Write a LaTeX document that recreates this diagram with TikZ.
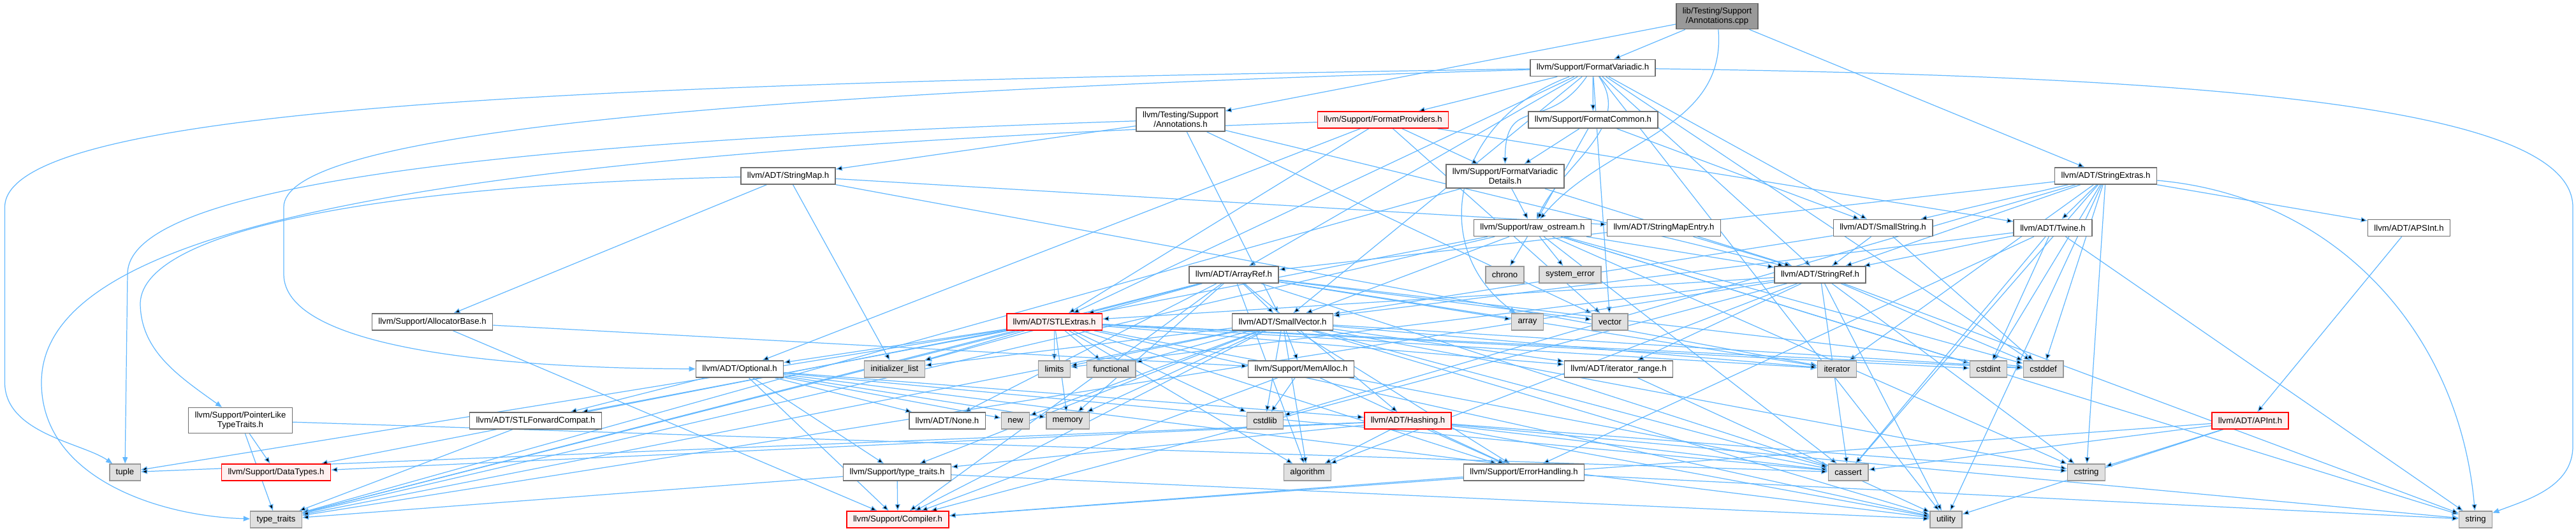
\documentclass[tikz,border=0pt]{standalone}
\usepackage{fontspec}
\setmainfont{Liberation Sans}
\usetikzlibrary{arrows.meta, backgrounds}
\definecolor{edgecol}{RGB}{99, 184, 255}
\definecolor{rootcol}{RGB}{153, 153, 153}
\definecolor{rootline}{RGB}{102, 102, 102}
\definecolor{hdrline}{RGB}{110, 110, 110}
\definecolor{syscol}{RGB}{224, 224, 224}
\definecolor{sysline}{RGB}{153, 153, 153}
\definecolor{trunccol}{RGB}{255, 240, 240}
\definecolor{truncline}{RGB}{255, 0, 0}

\begin{document}
\begin{tikzpicture}[
    font=\fontsize{7.5}{8.6}\selectfont,
    flow/.style={draw=edgecol, line width=0.7pt, -{Triangle[length=2mm, width=1.6mm]}},
    box/.style={draw, line width=0.9pt, minimum height=5.2mm, inner xsep=2mm, inner ysep=3.6pt, align=center},
    hdrbox/.style={box, draw=hdrline, fill=white},
    sysbox/.style={box, draw=sysline, fill=syscol},
    truncbox/.style={box, draw=truncline, fill=trunccol},
    rootbox/.style={box, draw=rootline, fill=rootcol}
]
\useasboundingbox (0,0) rectangle (80.8,-16.66);

% The file and its direct includes
\node[rootbox]  (root)       at (53.86,-0.51) {lib/Testing/Support\\/Annotations.cpp};
\node[hdrbox]   (fmtvar)     at (49.96,-2.13) {llvm/Support/FormatVariadic.h};
\node[hdrbox]   (annoth)     at (37.03,-3.75) {llvm/Testing/Support\\/Annotations.h};
\node[truncbox] (fmtprov)    at (43.38,-3.76) {llvm/Support/FormatProviders.h};
\node[hdrbox]   (fmtcommon)  at (49.97,-3.76) {llvm/Support/FormatCommon.h};
\node[hdrbox]   (fmtdetails) at (47.21,-5.53) {llvm/Support/FormatVariadic\\Details.h};
\node[hdrbox]   (strextras)  at (66.05,-5.52) {llvm/ADT/StringExtras.h};
\node[hdrbox]   (strmap)     at (24.72,-5.52) {llvm/ADT/StringMap.h};

% Middle rows of headers
\node[hdrbox]   (rawos)      at (48.07,-7.15) {llvm/Support/raw\_ostream.h};
\node[hdrbox]   (strmapent)  at (52.19,-7.15) {llvm/ADT/StringMapEntry.h};
\node[hdrbox]   (smallstr)   at (59.06,-7.15) {llvm/ADT/SmallString.h};
\node[hdrbox]   (twine)      at (64.39,-7.15) {llvm/ADT/Twine.h};
\node[hdrbox]   (apsint)     at (75.56,-7.15) {llvm/ADT/APSInt.h};
\node[hdrbox]   (arrayref)   at (38.70,-8.62) {llvm/ADT/ArrayRef.h};
\node[sysbox]   (chrono)     at (47.20,-8.62) {chrono};
\node[sysbox]   (syserror)   at (49.25,-8.62) {system\_error};
\node[hdrbox]   (strref)     at (57.09,-8.62) {llvm/ADT/StringRef.h};
\node[hdrbox]   (allocbase)  at (13.56,-10.10) {llvm/Support/AllocatorBase.h};
\node[truncbox] (stlextras)  at (33.07,-10.10) {llvm/ADT/STLExtras.h};
\node[hdrbox]   (smallvec)   at (40.23,-10.10) {llvm/ADT/SmallVector.h};
\node[sysbox]   (array)      at (47.91,-10.10) {array};
\node[sysbox]   (vector)     at (50.50,-10.10) {vector};
\node[hdrbox]   (optional)   at (23.20,-11.58) {llvm/ADT/Optional.h};
\node[sysbox]   (initlist)   at (28.06,-11.58) {initializer\_list};
\node[sysbox]   (limits)     at (33.07,-11.58) {limits};
\node[sysbox]   (functional) at (34.85,-11.58) {functional};
\node[hdrbox]   (memalloc)   at (40.81,-11.58) {llvm/Support/MemAlloc.h};
\node[hdrbox]   (iterrange)  at (50.77,-11.58) {llvm/ADT/iterator\_range.h};
\node[sysbox]   (iterator)   at (57.62,-11.58) {iterator};
\node[sysbox]   (cstdint)    at (62.37,-11.58) {cstdint};
\node[sysbox]   (cstddef)    at (64.09,-11.58) {cstddef};
\node[hdrbox]   (ptrlike)    at (7.54,-13.19) {llvm/Support/PointerLike\\TypeTraits.h};
\node[hdrbox]   (stlfwd)     at (16.80,-13.20) {llvm/ADT/STLForwardCompat.h};
\node[hdrbox]   (none)       at (29.71,-13.20) {llvm/ADT/None.h};
\node[sysbox]   (new)        at (31.85,-13.20) {new};
\node[sysbox]   (memory)     at (33.49,-13.20) {memory};
\node[sysbox]   (cstdlib)    at (39.68,-13.20) {cstdlib};
\node[truncbox] (hashing)    at (44.16,-13.20) {llvm/ADT/Hashing.h};
\node[truncbox] (apint)      at (70.58,-13.20) {llvm/ADT/APInt.h};

% Bottom rows
\node[sysbox]   (tuple)      at (3.92,-14.82) {tuple};
\node[truncbox] (datatypes)  at (8.66,-14.82) {llvm/Support/DataTypes.h};
\node[hdrbox]   (typetraitsh) at (28.14,-14.82) {llvm/Support/type\_traits.h};
\node[sysbox]   (algorithm)  at (41.01,-14.82) {algorithm};
\node[hdrbox]   (errhandling) at (47.80,-14.82) {llvm/Support/ErrorHandling.h};
\node[sysbox]   (cassert)    at (57.97,-14.82) {cassert};
\node[sysbox]   (cstring)    at (65.44,-14.82) {cstring};
\node[sysbox]   (typetraits) at (8.66,-16.30) {type\_traits};
\node[truncbox] (compiler)   at (28.16,-16.30) {llvm/Support/Compiler.h};
\node[sysbox]   (utility)    at (61.04,-16.30) {utility};
\node[sysbox]   (string)     at (77.65,-16.30) {string};

\begin{scope}[on background layer]
% Includes of the source file
\draw[flow] (root) edge (annoth) edge (fmtvar) edge (strextras)
    edge[out=-85, in=50] (rawos);

% FormatVariadic.h
\draw[flow] (fmtvar) edge (arrayref) edge (stlextras) edge (smallstr) edge (smallvec)
    edge (strref) edge (fmtcommon) edge (fmtprov) edge (cstddef) edge (utility) edge (vector)
    edge[out=-125, in=90, looseness=1.5] (fmtdetails) edge[out=-55, in=65] (rawos);
\draw[flow] (fmtvar) .. controls (45.5,-3.8) and (44.8,-7.8) .. (array);
\draw[flow] (fmtvar) .. controls (20,-2.6) and (0.15,-3.2) .. (0.15,-6.5) -- (0.15,-12)
    .. controls (0.15,-13.6) and (2.6,-13.9) .. (tuple);
\draw[flow] (fmtvar) .. controls (20,-3.0) and (8.9,-4.4) .. (8.9,-6.5) -- (8.9,-8.6)
    .. controls (8.9,-10.8) and (15,-11.55) .. (optional);
\draw[flow] (fmtvar) .. controls (70,-2.4) and (80.7,-3.4) .. (80.7,-6.5) -- (80.7,-14)
    .. controls (80.7,-15.3) and (79.2,-15.7) .. (string);

% Annotations.h
\draw[flow] (annoth) edge (smallvec) edge (strmap) edge (strref) edge (vector);
\draw[flow] (annoth) .. controls (14,-4.5) and (4.0,-6.0) .. (4.0,-8.6) -- (tuple);

% StringExtras.h
\draw[flow] (strextras) edge (apsint) edge (arrayref) edge (smallstr) edge (strref)
    edge (twine) edge (cassert) edge (cstddef) edge (cstdint) edge (cstdlib)
    edge (cstring) edge (iterator) edge (utility) edge[out=-5, in=95] (string);

% FormatProviders.h, FormatCommon.h, FormatVariadicDetails.h
\draw[flow] (fmtprov) edge (optional) edge (stlextras) edge (twine) edge (fmtdetails) edge (vector);
\draw[flow] (fmtprov) .. controls (14,-4.8) and (1.3,-7) .. (1.3,-12)
    .. controls (1.3,-15) and (5,-16.2) .. (typetraits);
\draw[flow] (fmtcommon) edge (smallstr) edge (fmtdetails) edge (rawos);
\draw[flow] (fmtdetails) edge (strref) edge (rawos) edge (typetraits);

% raw_ostream.h
\draw[flow] (rawos) edge (smallvec) edge (strref) edge (datatypes) edge (cassert)
    edge (chrono) edge (cstddef) edge (cstdint) edge (cstring) edge (string)
    edge (syserror) edge (typetraits);

% StringMap.h and StringMapEntry.h
\draw[flow] (strmap) edge (strmapent) edge (allocbase) edge (initlist) edge (iterator);
\draw[flow] (strmap) .. controls (12,-5.8) and (4.5,-7.2) .. (4.4,-9.5)
    .. controls (4.4,-11) and (5.6,-11.8) .. (ptrlike);
\draw[flow] (strmapent) edge (strref);

% SmallString.h, Twine.h, APSInt.h
\draw[flow] (smallstr) edge (smallvec) edge (strref) edge (cstddef);
\draw[flow] (twine) edge (smallvec) edge (strref) edge (errhandling) edge (cassert)
    edge (cstdint) edge (string);
\draw[flow] (apsint) edge (apint);

% ArrayRef.h
\draw[flow] (arrayref) edge (hashing) edge (none) edge (stlextras) edge (smallvec)
    edge (compiler) edge (algorithm) edge (array) edge (cassert) edge (cstddef)
    edge (initlist) edge (iterator) edge (memory) edge (typetraits) edge (vector);

% StringRef.h
\draw[flow] (strref) edge (stlextras) edge (iterrange) edge (compiler) edge (algorithm)
    edge (cassert) edge (cstddef) edge (cstring) edge (limits) edge (string)
    edge (typetraits) edge (utility);

% STLExtras.h
\draw[flow] (stlextras) edge (optional) edge (stlfwd) edge (iterrange) edge (errhandling)
    edge (algorithm) edge (cassert) edge (cstddef) edge (cstdint) edge (cstdlib)
    edge (functional) edge (initlist) edge (iterator) edge (limits) edge (memory)
    edge (tuple) edge (typetraits) edge (utility);

% SmallVector.h
\draw[flow] (smallvec) edge (iterrange) edge (compiler) edge (errhandling) edge (memalloc)
    edge (typetraitsh) edge (algorithm) edge (cassert) edge (cstddef) edge (cstdlib)
    edge (cstring) edge (functional) edge (initlist) edge (iterator) edge (limits)
    edge (memory) edge (new) edge (typetraits) edge (utility);

% Optional.h, MemAlloc.h, iterator_range.h
\draw[flow] (optional) edge (hashing) edge (none) edge (stlfwd) edge (compiler)
    edge (typetraitsh) edge (cassert) edge (memory) edge (new) edge (utility);
\draw[flow] (memalloc) edge (compiler) edge (errhandling) edge (cstdlib);
\draw[flow] (iterrange) edge (utility);

% Hashing.h and APInt.h
\draw[flow] (hashing) edge (datatypes) edge (errhandling) edge (typetraitsh) edge (algorithm)
    edge (cassert) edge (cstring) edge (string) edge (tuple) edge (utility);
\draw[flow] (apint) edge (compiler) edge (cassert) edge (cstring) edge (utility);

% Lower support headers
\draw[flow] (typetraitsh) edge (compiler) edge (typetraits) edge (utility);
\draw[flow] (errhandling) edge (compiler) edge (string);
\draw[flow] (stlfwd) edge (typetraits);
\draw[flow] (ptrlike) edge (datatypes) edge (cassert) edge (typetraits);
\draw[flow] (allocbase) edge (compiler) edge (memalloc);
\end{scope}

\end{tikzpicture}
\end{document}
